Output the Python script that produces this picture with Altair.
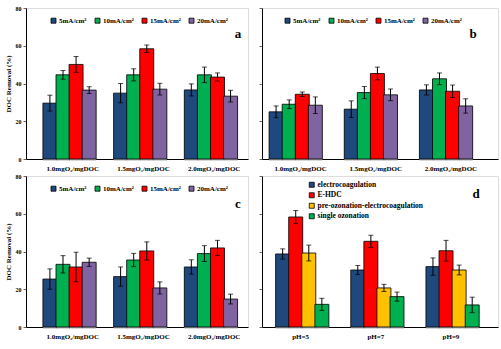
import altair as alt
import pandas as pd

# ---------------- data ----------------
o3_groups = ["1.0mgO\u2083/mgDOC", "1.5mgO\u2083/mgDOC", "2.0mgO\u2083/mgDOC"]
ph_groups = ["pH=5", "pH=7", "pH=9"]
currents = ["5mA/cm\u00b2", "10mA/cm\u00b2", "15mA/cm\u00b2", "20mA/cm\u00b2"]
processes = ["electrocoagulation", "E-HDC", "pre-ozonation-electrocoagulation", "single ozonation"]

current_colors = ["#1F497D", "#00B050", "#FF0000", "#8064A2"]
process_colors = ["#1F497D", "#FF0000", "#FFC000", "#00B050"]

# rows = groups, columns = series
a_vals = [[29.6, 44.6, 50.1, 36.5], [34.9, 44.6, 58.4, 37.0], [36.6, 44.6, 43.4, 33.3]]
a_errs = [[4.2, 2.3, 4.2, 1.8], [5.1, 3.2, 2.0, 3.1], [3.2, 4.1, 2.2, 3.1]]

b_vals = [[25.0, 29.0, 34.3, 28.5], [26.4, 35.2, 45.3, 34.0], [36.6, 42.5, 35.9, 28.1]]
b_errs = [[3.1, 2.3, 1.2, 4.4], [4.4, 3.2, 3.4, 3.1], [2.7, 3.1, 3.3, 3.8]]

c_vals = [[25.4, 33.2, 31.8, 34.3], [26.7, 35.5, 40.3, 20.7], [31.8, 38.9, 41.9, 14.8]]
c_errs = [[5.4, 4.6, 7.8, 2.2], [5.1, 3.5, 4.8, 3.2], [3.8, 4.2, 4.0, 2.6]]

d_vals = [[38.7, 58.3, 39.2, 12.0], [30.2, 45.4, 20.7, 16.1], [32.0, 40.4, 30.2, 11.7]]
d_errs = [[2.7, 3.4, 4.2, 3.2], [2.4, 3.2, 1.9, 2.4], [4.6, 5.5, 2.6, 4.1]]

FONT = "Liberation Serif"
BAR_W = 14


def make_df(groups, series, vals, errs):
    rows = []
    for gi, g in enumerate(groups):
        for si, s in enumerate(series):
            v = vals[gi][si]
            e = errs[gi][si]
            rows.append({"group": g, "series": s, "value": v, "lo": v - e, "hi": v + e})
    return pd.DataFrame(rows)


def panel(df, groups, series, colors, width, align, left, letter, letter_xy, legend):
    xscale = alt.Scale(type="band", paddingInner=0.26, paddingOuter=0.2, align=align)
    x = alt.X("group:N", sort=groups, scale=xscale, title=None,
              axis=alt.Axis(labelAngle=0, ticks=False, labelPadding=5,
                            labelFontSize=7, labelFont=FONT, labelFontWeight="bold",
                            domainColor="black", labelColor="black"))
    xo = alt.XOffset("series:N", sort=series,
                     scale=alt.Scale(type="band", paddingInner=0, paddingOuter=0))
    yscale = alt.Scale(domain=[0, 80], nice=False)
    if left:
        yaxis = alt.Axis(values=[0, 20, 40, 60, 80], title="DOC Removal (%)", grid=False,
                         tickSize=3, labelFontSize=6, labelFont=FONT, labelFontWeight="bold",
                         labelOverlap=False,
                         titleFont=FONT, titleFontSize=7, titleFontWeight="bold",
                         titlePadding=4, labelPadding=2, domainColor="black",
                         tickColor="#666666", labelColor="black", titleColor="black")
    else:
        yaxis = alt.Axis(values=[0, 20, 40, 60, 80], title=None, grid=False, labels=False,
                         tickSize=3, domainColor="black", tickColor="#666666")
    base = alt.Chart(df).encode(x=x, xOffset=xo)
    shadow = base.mark_bar(color="#b0b0b0", width=BAR_W, xOffset=1.5, yOffset=1.5).encode(
        y=alt.Y("value:Q", scale=yscale, axis=yaxis))
    bars = base.mark_bar(stroke="black", strokeWidth=0.8, width=BAR_W).encode(
        y=alt.Y("value:Q", scale=yscale, axis=yaxis),
        color=alt.Color("series:N", sort=series,
                        scale=alt.Scale(domain=series, range=colors),
                        legend=legend),
    )
    err = base.mark_rule(color="black", strokeWidth=1).encode(
        y=alt.Y("lo:Q", scale=yscale, axis=yaxis), y2="hi:Q")
    cap_hi = base.mark_tick(color="black", orient="horizontal", size=5, thickness=1).encode(
        y=alt.Y("hi:Q", scale=yscale, axis=yaxis))
    cap_lo = base.mark_tick(color="black", orient="horizontal", size=5, thickness=1).encode(
        y=alt.Y("lo:Q", scale=yscale, axis=yaxis))
    txt = alt.Chart(pd.DataFrame({"t": [letter]})).mark_text(
        font=FONT, fontSize=13, fontWeight="bold", color="black", align="center",
        baseline="middle").encode(text="t:N", x=alt.value(letter_xy[0]), y=alt.value(letter_xy[1]))
    return alt.layer(shadow, bars, err, cap_hi, cap_lo, txt).properties(width=width, height=151)


def cur_legend(lx):
    return alt.Legend(orient="none", legendX=lx, legendY=9, direction="horizontal",
                      title=None, symbolType="square", symbolSize=25,
                      symbolStrokeColor="black", symbolStrokeWidth=0.8,
                      labelFont=FONT, labelFontSize=7, labelFontWeight="bold",
                      labelColor="black", columnPadding=6, symbolOffset=0,
                      labelOffset=2, padding=0)


proc_legend = alt.Legend(orient="none", legendX=46, legendY=5, direction="vertical",
                         title=None, symbolType="square", symbolSize=25,
                         symbolStrokeColor="black", symbolStrokeWidth=0.8,
                         labelFont=FONT, labelFontSize=7.5, labelFontWeight="bold",
                         labelColor="black", rowPadding=1.5, labelOffset=2, padding=0)

pa = panel(make_df(o3_groups, currents, a_vals, a_errs), o3_groups, currents, current_colors,
           222, 0.73, True, "a", (212, 26), cur_legend(24))
pb = panel(make_df(o3_groups, currents, b_vals, b_errs), o3_groups, currents, current_colors,
           236, 0.36, False, "b", (211, 26), cur_legend(22))
pc = panel(make_df(o3_groups, currents, c_vals, c_errs), o3_groups, currents, current_colors,
           222, 0.73, True, "c", (212, 28), cur_legend(24))
pd_ = panel(make_df(ph_groups, processes, d_vals, d_errs), ph_groups, processes, process_colors,
            236, 0.36, False, "d", (214, 18), proc_legend)

top = alt.hconcat(pa, pb, spacing=9).resolve_scale(color="independent")
bottom = alt.hconcat(pc, pd_, spacing=9).resolve_scale(color="independent")
chart = alt.vconcat(top, bottom, spacing=0).resolve_scale(color="independent").properties(
    padding={"left": 3, "top": 4, "right": 0, "bottom": 0}
).configure_view(stroke="#8a8a8a", strokeWidth=1).configure(background="white")

chart.save("out.html", embed_options={"renderer": "svg", "actions": False})
